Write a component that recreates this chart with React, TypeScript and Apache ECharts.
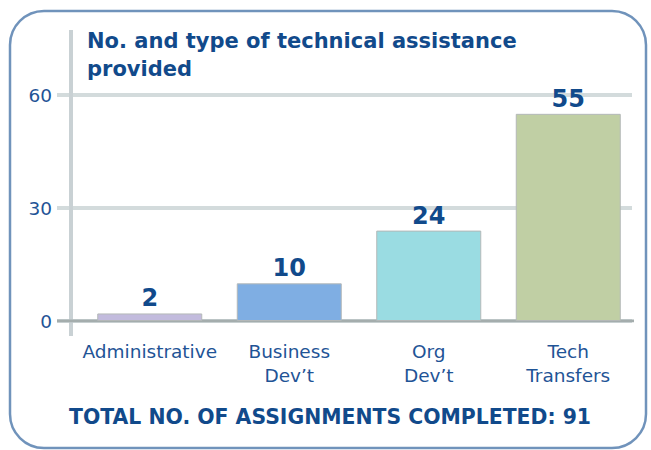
import React, { useEffect, useRef } from "react";
import * as echarts from "echarts";

const categories = ["Administrative", "Business\nDev’t", "Org\nDev’t", "Tech\nTransfers"];
const values = [2, 10, 24, 55];
const barColors = ["#c2bbdd", "#7faee3", "#9adce2", "#c0cfa4"];
const yTicks = [0, 30, 60];
const titleText = "No. and type of technical assistance\nprovided";
const footerText = "TOTAL NO. OF ASSIGNMENTS COMPLETED: 91";

const FONT = "'DejaVu Sans', 'Open Sans', sans-serif";
const BLUE = "#114a8b";

export default function App() {
  const ref = useRef<HTMLDivElement>(null);
  useEffect(() => {
    if (!ref.current) return;
    const chart = echarts.init(ref.current, null, { renderer: "svg" });
    chart.setOption({
      animation: false,
      backgroundColor: "#ffffff",
      grid: [
        { left: 80, right: 13, top: 95, bottom: 129 },
        { left: 57, right: 19, top: 95, bottom: 129 },
      ],
      xAxis: [
        {
          type: "category",
          gridIndex: 0,
          data: categories,
          axisLine: { show: false },
          axisTick: { show: false },
          axisLabel: {
            interval: 0,
            color: "#1f5496",
            fontFamily: FONT,
            fontSize: 18.5,
            lineHeight: 24,
            margin: 18,
          },
        },
        {
          type: "value",
          gridIndex: 1,
          min: 0,
          max: 1,
          show: false,
        },
      ],
      yAxis: [
        {
          type: "value",
          gridIndex: 0,
          min: 0,
          max: 60,
          interval: 30,
          axisLine: { show: false },
          axisTick: { show: false },
          splitLine: { show: false },
          axisLabel: { show: false },
        },
        {
          type: "value",
          gridIndex: 1,
          min: 0,
          max: 60,
          interval: 30,
          axisLine: { show: false },
          axisTick: { show: false },
          splitLine: { show: true, lineStyle: { color: "#d3dbdc", width: 4 } },
          axisLabel: {
            color: "#1f5496",
            fontFamily: FONT,
            fontSize: 18.5,
            margin: 5,
            formatter: (v: number) => (yTicks.includes(v) ? String(v) : ""),
          },
        },
      ],
      series: [
        {
          type: "line",
          xAxisIndex: 1,
          yAxisIndex: 1,
          data: [[0, 0], [1.004, 0]],
          symbol: "none",
          lineStyle: { color: "#a4adad", width: 3 },
          z: 3,
        },
        {
          type: "bar",
          xAxisIndex: 0,
          yAxisIndex: 0,
          barWidth: 105,
          data: values.map((v, i) => ({
            value: v,
            itemStyle: { color: barColors[i], borderColor: "#b4b8b8", borderWidth: 1 },
          })),
          label: {
            show: true,
            position: "top",
            distance: 3,
            color: BLUE,
            fontFamily: FONT,
            fontWeight: "bold",
            fontSize: 24,
          },
          z: 4,
        },
      ],
      graphic: [
        {
          type: "rect",
          shape: { x: 10, y: 11, width: 636, height: 437, r: 34 },
          style: { fill: "none", stroke: "#7093bb", lineWidth: 2.5 },
          z: -1,
        },
        {
          type: "line",
          shape: { x1: 71, y1: 30, x2: 71, y2: 336 },
          style: { stroke: "#c9d1d4", lineWidth: 4 },
          z: 1,
        },
        {
          type: "text",
          left: 87,
          top: 27,
          style: {
            text: titleText,
            fill: BLUE,
            font: `bold 21px ${FONT}`,
            lineHeight: 28,
          },
          z: 10,
        },
        {
          type: "text",
          left: 69,
          top: 407,
          style: {
            text: footerText,
            fill: BLUE,
            font: `bold 20.4px ${FONT}`,
          },
          z: 10,
        },
      ],
    });
    return () => chart.dispose();
  }, []);
  return (
    <div
      ref={ref}
      style={{ position: "fixed", left: 0, top: 0, width: 651, height: 450 }}
    />
  );
}
